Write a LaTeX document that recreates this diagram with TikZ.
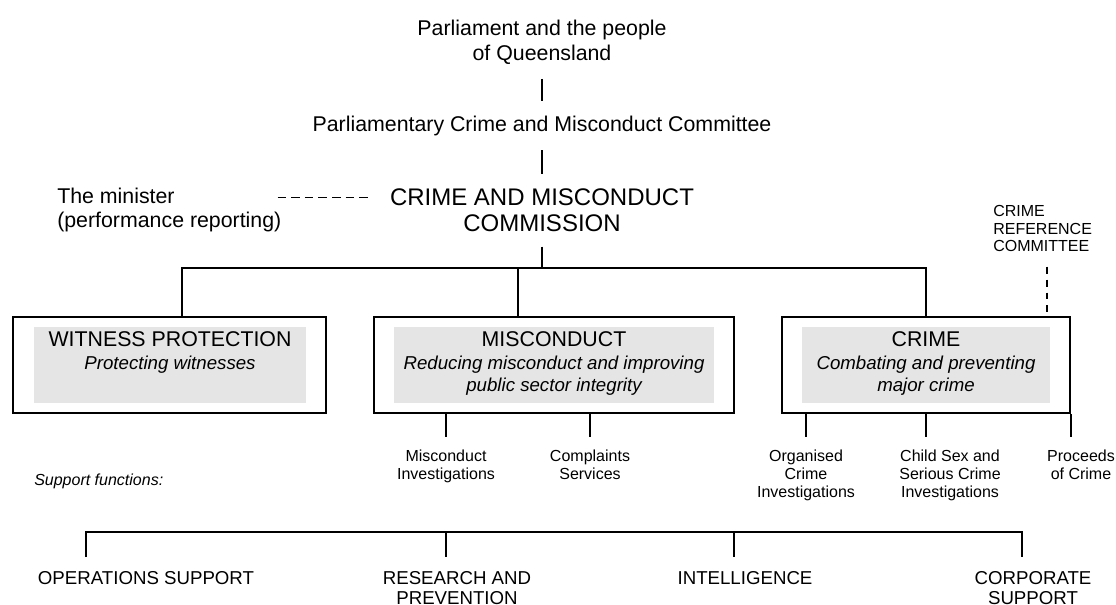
\documentclass[tikz,border=0pt]{standalone}
\usepackage{fontspec}
\setmainfont{Liberation Sans}
\usetikzlibrary{positioning,calc}
\definecolor{panelgrey}{gray}{0.9}
\tikzset{link/.style={line width=1.5pt},gap/.style={shorten <=10.5pt,shorten >=10.5pt}}
\tikzset{unit/.style={draw,line width=1.6pt,inner sep=0pt,minimum height=72pt}}

\begin{document}
\begin{tikzpicture}[x=0.75pt,y=-0.75pt,
        toptext/.style={anchor=north,align=center,inner sep=0pt,font=\fontsize{16}{18.75}\selectfont},
        panel/.style={fill=panelgrey,inner sep=0pt,minimum height=57pt},
        heading/.style={anchor=north,align=center,inner sep=0pt,font=\fontsize{16}{17}\selectfont},
        branch/.style={anchor=north,align=center,inner sep=0pt,font=\fontsize{12}{13.5}\selectfont},
        service/.style={anchor=north,align=center,inner sep=0pt,font=\fontsize{14}{15}\selectfont},
        dashlink/.style={line width=1.3pt,dash pattern=on 6.4pt off 3.8pt}]
    \useasboundingbox (0,0) rectangle (1116,605);
    % accountability
    \node[toptext] (parl) at (542,19.3) {Parliament and the people\\of Queensland};
    \node[toptext] (pcmc) at (542,115.3) {Parliamentary Crime and Misconduct Committee};
    \node[toptext,font=\fontsize{18}{19.5}\selectfont] (cmc) at (542,188.4) {CRIME AND MISCONDUCT\\COMMISSION};
    \node[toptext,anchor=north west,align=left,font=\fontsize{16}{18}\selectfont] (minister) at (57,187.3) {The minister\\(performance reporting)};
    \node[toptext,anchor=north west,align=left,font=\fontsize{12}{13.1}\selectfont] (crc) at (993,205.2) {CRIME\\REFERENCE\\COMMITTEE};
    % outputs
    \node[unit,minimum width=234.75pt] (wp) at (169.5,365) {};
    \node[panel,minimum width=204pt] (wpbg) at (170,365) {};
    \node[heading] (wpt) at (170,331.5) {WITNESS PROTECTION\\{\fontsize{14}{17}\selectfont\itshape Protecting witnesses}};
    \node[unit,minimum width=270pt] (mis) at (554,365) {};
    \node[panel,minimum width=240pt] (misbg) at (554,365) {};
    \node[heading] (mist) at (554,331.5) {MISCONDUCT\\{\fontsize{14}{17}\selectfont\itshape Reducing misconduct and improving}\\{\fontsize{14}{17}\selectfont\itshape public sector integrity}};
    \node[unit,minimum width=216pt] (crime) at (926,365) {};
    \node[panel,minimum width=186pt] (crimebg) at (926,365) {};
    \node[heading] (crimet) at (926,331.5) {CRIME\\{\fontsize{14}{17}\selectfont\itshape Combating and preventing}\\{\fontsize{14}{17}\selectfont\itshape major crime}};
    % areas
    \node[branch] (misinv) at (446,450) {Misconduct\\Investigations};
    \node[branch] (compl) at (590,450) {Complaints\\Services};
    \node[branch] (orgcr) at (806,450) {Organised\\Crime\\Investigations};
    \node[branch] (child) at (950,450) {Child Sex and\\Serious Crime\\Investigations};
    \node[branch] (proc) at (1081,450) {Proceeds\\of Crime};
    \node[branch,anchor=north west,font=\fontsize{12}{13.5}\selectfont\itshape] (supp) at (34,474) {Support functions:};
    \node[service] (ops) at (146,571) {OPERATIONS SUPPORT};
    \node[service] (research) at (457,571) {RESEARCH AND\\PREVENTION};
    \node[service] (intel) at (745,571) {INTELLIGENCE};
    \node[service] (corp) at (1033,571) {CORPORATE\\SUPPORT};

    \coordinate (busL) at (182,268);
    \coordinate (busM) at (518,268);
    \coordinate (busR) at (926,268);
    \coordinate (supL) at (86,532);
    \coordinate (supR) at (1022,532);
    \coordinate (resdrop) at (446,532);
    \coordinate (inteldrop) at (734,532);
    \path ($(minister.east)+(-4,-12)$) coordinate (mstart);
    \path ($(crc.south)+(4.5,0)$) coordinate (crcend);

    \draw[link,shorten <=11pt,shorten >=11pt] (parl) -- (pcmc);
    \draw[link,shorten <=11pt,shorten >=11pt] (pcmc) -- (cmc);
    \draw[link,shorten <=11pt] (cmc) -- (cmc |- busM);
    \draw[link] (busL |- wp.north) -- (busL) -- (busR) -- (crime.north);
    \draw[link] (busM) -- (busM |- mis.north);
    \draw[dashlink,shorten >=16.5pt] (mstart) -- (mstart -| cmc.west);
    \draw[dashlink,dash pattern=on 5.2pt off 4.5pt,shorten <=11pt] (crcend) -- (crcend |- crime.north);
    \draw[link,shorten >=9.75pt] (misinv |- mis.south) -- (misinv);
    \draw[link,shorten >=9.75pt] (compl |- mis.south) -- (compl);
    \draw[link,shorten >=9.75pt] (orgcr |- crime.south) -- (orgcr);
    \draw[link,shorten >=9.75pt] (crime.south) -- (crime.south |- child.north);
    \draw[link,shorten >=9.75pt] (crime.south east) -- (crime.south east |- proc.north);
    \draw[link,gap] (supL |- ops.north) -- (supL) -- (supR) -- (supR |- corp.north);
    \draw[link,shorten >=10.5pt] (resdrop) -- (resdrop |- research.north);
    \draw[link,shorten >=10.5pt] (inteldrop) -- (inteldrop |- intel.north);
\end{tikzpicture}
\end{document}
